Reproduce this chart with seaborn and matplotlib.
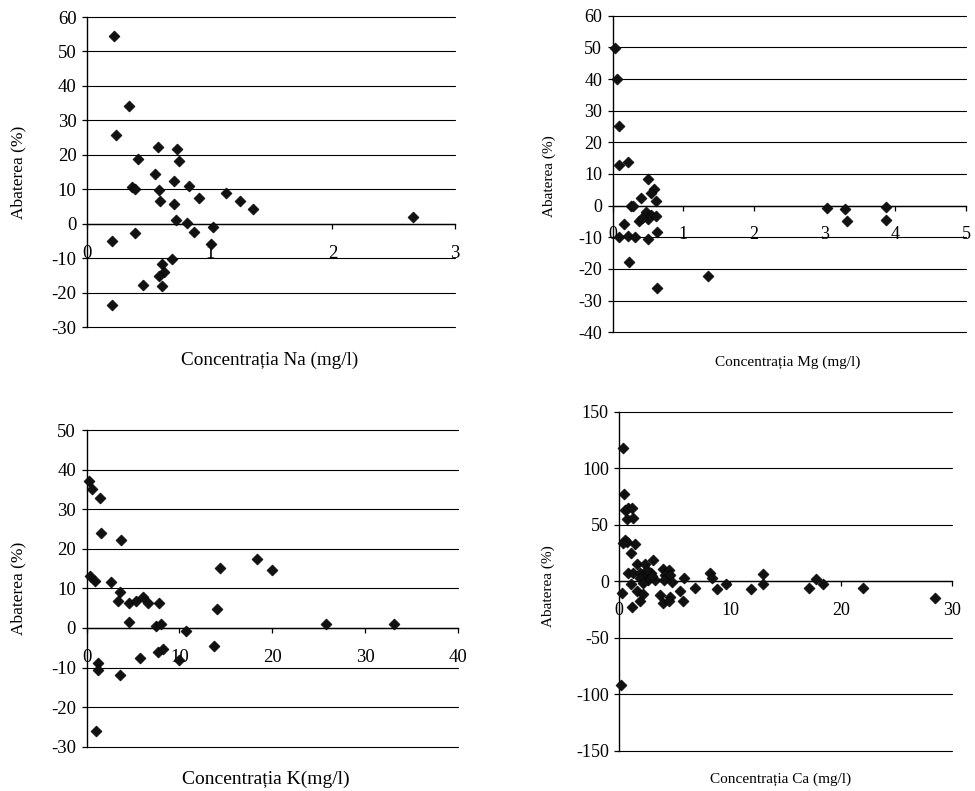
import matplotlib
matplotlib.use('Agg')
import matplotlib.pyplot as plt
import pandas as pd
import seaborn as sns

# ---------------- data ----------------
na_conc = [0.22, 0.345, 0.236, 0.58, 0.733, 0.416, 0.747, 0.554, 0.706, 0.37, 0.39,
           0.59, 0.83, 0.915, 1.133, 1.247, 1.355, 0.595, 0.71, 0.722, 0.817, 0.875,
           1.03, 1.01, 0.204, 0.39, 0.693, 0.61, 0.627, 0.59, 0.456, 0.61, 0.204, 2.66]
na_dev = [54.4, 34.1, 25.8, 22.3, 21.8, 18.7, 18.2, 14.3, 12.4, 10.5, 10.0,
          9.9, 10.8, 7.4, 9.0, 6.5, 4.4, 6.5, 5.6, 1.0, 0.1, -2.4,
          -1.0, -5.8, -4.9, -2.8, -10.4, -11.8, -14.1, -15.2, -17.7, -18.2, -23.7, 1.9]

mg_conc = [0.03, 0.065, 0.087, 0.087, 0.225, 0.5, 0.59, 0.545, 0.4, 0.62, 0.255, 0.29,
           0.475, 0.545, 0.61, 0.37, 0.5, 0.16, 0.42, 0.095, 0.22, 0.32, 0.5, 0.63,
           0.23, 0.63, 1.35, 3.03, 3.29, 3.31, 3.87, 3.87]
mg_dev = [49.7, 40.0, 25.2, 12.9, 13.9, 8.4, 5.2, 3.9, 2.5, 1.5, 0.0, 0.0,
          -2.1, -2.9, -3.2, -5.0, -4.3, -5.9, -4.0, -10.0, -9.6, -10.0, -10.5, -8.2,
          -17.7, -26.0, -22.2, -0.6, -1.1, -5.0, -0.5, -4.5]

k_conc = [0.25, 0.61, 1.4, 1.55, 3.74, 14.4, 18.4, 20.0, 0.4, 0.9, 2.67, 3.56, 3.38,
          4.54, 5.37, 6.08, 6.62, 7.8, 14.0, 4.54, 7.45, 8.0, 10.7, 13.75, 7.65, 8.2,
          5.72, 9.93, 1.22, 1.22, 3.56, 0.97, 25.8, 33.1]
k_dev = [37.0, 35.2, 32.7, 24.1, 22.3, 15.1, 17.5, 14.6, 13.1, 11.8, 11.6, 9.1, 6.8,
         6.2, 6.8, 7.8, 6.2, 6.4, 4.7, 1.4, 0.5, 0.9, -0.8, -4.6, -6.1, -5.2,
         -7.7, -8.2, -8.8, -10.7, -11.9, -26.1, 0.9, 0.9]

ca_conc = [0.36, 0.42, 0.51, 0.81, 1.12, 0.67, 1.21, 0.51, 0.67, 0.36, 1.42, 1.03,
           3.0, 1.63, 2.32, 3.92, 4.52, 0.76, 1.21, 1.87, 2.86, 2.17, 4.13, 4.58,
           2.62, 3.22, 4.04, 5.84, 8.19, 8.35, 13.0, 2.48, 1.87, 2.93,
           0.27, 1.03, 1.17, 1.57, 1.87, 2.17, 2.17, 3.68, 3.97, 4.58, 4.52, 4.73,
           5.48, 5.78, 6.87, 8.85, 9.58, 11.87, 13.0, 0.15,
           17.1, 17.7, 18.4, 21.95, 28.45]
ca_dev = [117.7, 77.0, 63.0, 64.6, 65.1, 54.9, 55.7, 36.5, 35.0, 34.2, 32.7, 25.3,
          18.8, 15.0, 15.0, 10.6, 10.0, 7.6, 7.6, 7.1, 7.1, 4.1, 5.6, 5.6,
          1.2, 1.2, 1.2, 2.7, 7.1, 2.7, 6.5, 10.0, 2.7, 5.0,
          -10.6, -2.4, -22.4, -8.3, -17.2, -11.2, -1.8, -12.1, -19.5, -13.6, -17.2, -0.4,
          -8.3, -17.2, -5.7, -7.1, -2.7, -7.1, -2.7, -91.8,
          -6.2, 1.8, -2.4, -5.6, -14.5]

na_xticks = [0, 1, 2, 3]
na_yticks = [-30, -20, -10, 0, 10, 20, 30, 40, 50, 60]
mg_xticks = [0, 1, 2, 3, 4, 5]
mg_yticks = [-40, -30, -20, -10, 0, 10, 20, 30, 40, 50, 60]
k_xticks = [0, 10, 20, 30, 40]
k_yticks = [-30, -20, -10, 0, 10, 20, 30, 40, 50]
ca_xticks = [0, 10, 20, 30]
ca_yticks = [-150, -100, -50, 0, 50, 100, 150]

ylabel_text = "Abaterea (%)"
xlabels = ["Concentrația Na (mg/l)", "Concentrația Mg (mg/l)",
           "Concentrația K(mg/l)", "Concentrația Ca (mg/l)"]

# ---------------- style ----------------
sns.set_theme(style='white')
plt.rcParams['font.family'] = ['Liberation Serif', 'DejaVu Serif']
plt.rcParams['axes.unicode_minus'] = False

W, H = 975, 791
fig = plt.figure(figsize=(W / 100, H / 100), dpi=100)
fig.patch.set_facecolor('white')


def px_rect(l, t, r, b):
    return [l / W, 1 - b / H, (r - l) / W, (b - t) / H]


panels = [
    dict(x=na_conc, y=na_dev, rect=(87, 17, 455, 327), xt=na_xticks, yt=na_yticks,
         xlabel=xlabels[0], xl_pos=(270, 360), yl_pos=(18, 172),
         tsize=13.5, xlsize=13.8, ylsize=12.5),
    dict(x=mg_conc, y=mg_dev, rect=(612.5, 15.7, 966, 332.3), xt=mg_xticks, yt=mg_yticks,
         xlabel=xlabels[1], xl_pos=(788, 362), yl_pos=(549, 176),
         tsize=13, xlsize=11, ylsize=11),
    dict(x=k_conc, y=k_dev, rect=(86.5, 430, 458, 746.7), xt=k_xticks, yt=k_yticks,
         xlabel=xlabels[2], xl_pos=(266, 779), yl_pos=(18, 588),
         tsize=13.5, xlsize=14, ylsize=12.5),
    dict(x=ca_conc, y=ca_dev, rect=(619.3, 411.7, 952, 750.7), xt=ca_xticks, yt=ca_yticks,
         xlabel=xlabels[3], xl_pos=(781, 779), yl_pos=(548, 586),
         tsize=13, xlsize=11, ylsize=11),
]

for p in panels:
    ax = fig.add_axes(px_rect(*p['rect']))
    df = pd.DataFrame({'conc': p['x'], 'dev': p['y']})
    sns.scatterplot(data=df, x='conc', y='dev', marker='D', s=32, color='#111111',
                    edgecolor='black', linewidth=0.4, ax=ax, zorder=3, clip_on=False)
    ax.set_xlim(p['xt'][0], p['xt'][-1])
    ax.set_ylim(p['yt'][0], p['yt'][-1])
    ax.set_xticks(p['xt'])
    ax.set_xticklabels([str(v) for v in p['xt']])
    ax.set_yticks(p['yt'])
    ax.set_yticklabels([str(v) for v in p['yt']])
    ax.set_xlabel('')
    ax.set_ylabel('')
    ax.set_facecolor('white')
    for s in ['top', 'right']:
        ax.spines[s].set_visible(False)
    ax.spines['bottom'].set_position(('data', 0))
    for s in ['left', 'bottom']:
        ax.spines[s].set_color('black')
        ax.spines[s].set_linewidth(1.0)
    ax.yaxis.grid(True, color='black', linewidth=0.8)
    ax.xaxis.grid(False)
    ax.set_axisbelow(True)
    ax.tick_params(axis='both', direction='out', length=3.5, width=0.9, color='black',
                   labelsize=p['tsize'], labelcolor='black', bottom=True, left=True)
    ax.tick_params(axis='x', pad=11.5)
    ax.tick_params(axis='y', pad=4)
    for gl in ax.get_ygridlines():
        gl.set_clip_on(False)

    fig.text(p['xl_pos'][0] / W, 1 - p['xl_pos'][1] / H, p['xlabel'],
             ha='center', va='center', fontsize=p['xlsize'], color='black')
    fig.text(p['yl_pos'][0] / W, 1 - p['yl_pos'][1] / H, ylabel_text,
             ha='center', va='center', rotation=90, fontsize=p['ylsize'], color='black')

fig.savefig('out.png', dpi=100, facecolor='white')
